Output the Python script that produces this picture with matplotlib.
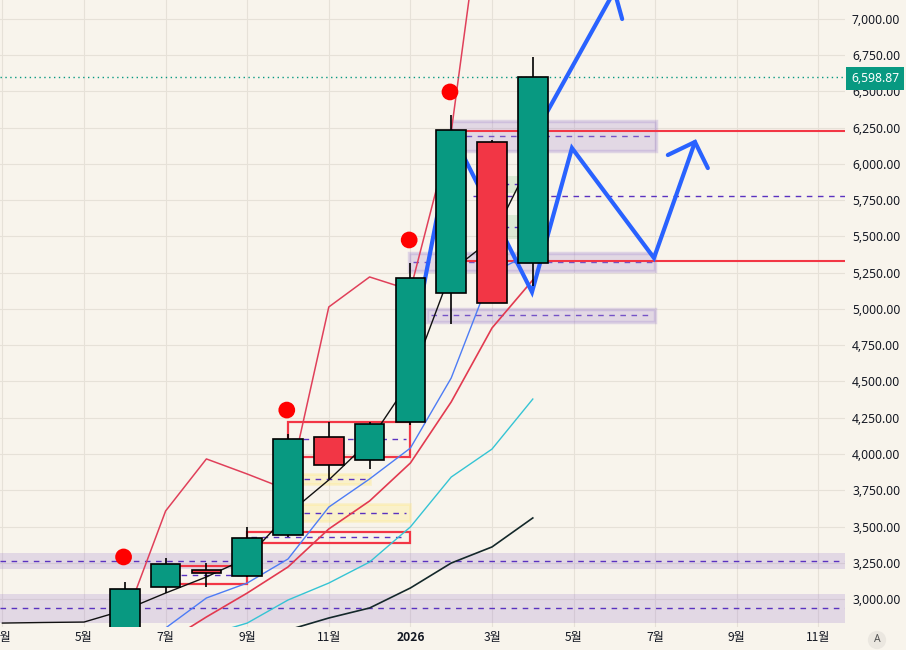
import matplotlib
matplotlib.use("Agg")
import matplotlib.pyplot as plt
from matplotlib.patches import Rectangle
import matplotlib.transforms as mtransforms

# ---------------- data ----------------
candle_months = ['2025-06', '2025-07', '2025-08', '2025-09', '2025-10', '2025-11',
                 '2025-12', '2026-01', '2026-02', '2026-03', '2026-04']
opens  = [2700, 3080, 3200, 3160, 3440, 4115, 3960, 4221, 5110, 6152, 5317]
highs  = [3120, 3285, 3245, 3500, 4138, 4221, 4221, 5317, 6338, 6166, 6738]
lows   = [2660, 3040, 3080, 3155, 3430, 3830, 3895, 4200, 4897, 5041, 5159]
closes = [3070, 3242, 3180, 3423, 4105, 3925, 4208, 5214, 6234, 5041, 6598.87]
last_price = 6598.87

ma_black_months = ['2025-03', '2025-04', '2025-05'] + candle_months
ma_black = [2834, 2838, 2841, 2924, 3041, 3152, 3283, 3586, 3821, 4090, 4510, 5262, 5483, 6050]
ma_upper_months = candle_months[:10]
ma_upper = [2855, 3607, 3966, 3862, 3752, 5014, 5221, 5131, 6221, 8317]
ma_blue_months = candle_months
ma_blue = [2600, 2800, 3007, 3110, 3276, 3634, 3828, 4041, 4524, 5250, 5390]
ma_red_months = candle_months[1:]
ma_red = [2700, 2876, 3041, 3221, 3483, 3676, 3938, 4359, 4869, 5200]
ma_cyan_months = candle_months[2:]
ma_cyan = [2750, 2834, 2993, 3110, 3255, 3497, 3841, 4034, 4379]
ma_dark_months = candle_months[3:]
ma_dark = [2700, 2786, 2869, 2938, 3076, 3248, 3359, 3559]

signal_months = ['2025-06', '2025-10', '2026-01', '2026-02']
signal_prices = [3290, 4303, 5476, 6497]

# zones: (start month idx, end month idx, low, high, dashed mid)
full_bands = [(3207, 3317, 3265), (2834, 3034, 2938)]
part_bands = [(9.0, 14.02, 6090, 6297, 6193),
              (7.97, 14.0, 5262, 5386, 5324),
              (8.4, 14.0, 4910, 5000, 4959)]
red_levels = [(9.0, 6228), (9.0, 5331)]
dash_levels = [(9.53, 5779)]
green_boxes = [(10.0, 11.0, 5800, 5917, 5862), (10.0, 11.0, 5483, 5648, 5566)]
yellow_boxes = [(5.0, 7.0, 3793, 3862, 3828), (5.0, 8.0, 3538, 3655, 3593)]
red_boxes = [(5.0, 8.0, 3979, 4221, 4103), (4.0, 8.0, 3386, 3462, 3428), (2.0, 4.0, 3103, 3228, 3166)]

# projection paths (month idx, price)
path_a_x = [8.0, 9.04, 10.98, 11.96, 13.97, 14.975]
path_a_y = [4683, 6200, 5117, 6110, 5352, 6152]
head_a_x = [14.31, 14.975, 15.29]
head_a_y = [6062, 6152, 5972]
path_b_x = [10.98, 13.0]
path_b_y = [6172, 7193]
head_b_x = [12.3, 13.0, 13.19]
head_b_y = [7141, 7193, 7000]

tick_pos = [-2, 0, 2, 4, 6, 8, 10, 12, 14, 16, 18]
tick_lbl = ['3월', '5월', '7월', '9월', '11월', '2026', '3월', '5월', '7월', '9월', '11월']
ytick_vals = [3000, 3250, 3500, 3750, 4000, 4250, 4500, 4750, 5000, 5250, 5500,
              5750, 6000, 6250, 6500, 6750, 7000]


def midx(s):
    y, m = s.split('-')
    return (int(y) - 2025) * 12 + int(m) - 5


# ---------------- style ----------------
BG = '#f8f4ec'
GREEN = '#089981'
RED = '#f23645'
PURPLE_FILL = (0.58, 0.46, 0.80, 0.22)
PURPLE_EDGE = (0.58, 0.46, 0.80, 0.25)
PURPLE_DASH = '#5a32c0'

fig = plt.figure(figsize=(9.06, 6.5), dpi=100, facecolor=BG)
ax = fig.add_axes([0, 23 / 650, 845 / 906, 627 / 650], facecolor=BG)
xmin, xmax = -84 / 40.8, 761 / 40.8
ax.set_xlim(xmin, xmax)
ax.set_ylim(7000 - 608 / 0.145, 7000 + 19 / 0.145)

for s in ax.spines.values():
    s.set_visible(False)

ax.set_xticks(tick_pos)
ax.set_xticklabels(tick_lbl, fontfamily=['Noto Sans CJK KR', 'DejaVu Sans'])
for t, l in zip(ax.get_xticklabels(), tick_lbl):
    if l == '2026':
        t.set_fontweight('bold')
ax.set_yticks(ytick_vals)
ax.set_yticklabels([f'{v:,.2f}' for v in ytick_vals], fontfamily='Noto Sans')
ax.yaxis.tick_right()
ax.tick_params(axis='both', length=0, labelsize=8.7, colors='#131722')
ax.tick_params(axis='y', pad=5)
ax.tick_params(axis='x', pad=3)
ax.grid(True, color='#e6e1d8', lw=0.8, zorder=0)
ax.set_axisbelow(True)

# full width bands
for lo, hi, mid in full_bands:
    ax.add_patch(Rectangle((xmin, lo), xmax - xmin, hi - lo, fc=PURPLE_FILL, ec='none', zorder=1))
    ax.plot([xmin, xmax], [mid, mid], color=PURPLE_DASH, lw=1, ls=(0, (4, 4)), zorder=1.5)

for x0, x1, lo, hi, mid in part_bands:
    ax.add_patch(Rectangle((x0, lo), x1 - x0, hi - lo, fc=PURPLE_FILL, ec=PURPLE_EDGE, lw=2.5, zorder=1))
    ax.plot([x0 + 0.1, x1 - 0.05], [mid, mid], color=PURPLE_DASH, lw=1, ls=(0, (4, 4)), zorder=1.5, alpha=0.8)

for x0, lvl in red_levels:
    ax.plot([x0, xmax], [lvl, lvl], color=RED, lw=1.5, zorder=1.6)
for x0, lvl in dash_levels:
    ax.plot([x0, xmax], [lvl, lvl], color=PURPLE_DASH, lw=1, ls=(0, (4, 4)), zorder=1.5)

for x0, x1, lo, hi, mid in green_boxes:
    ax.add_patch(Rectangle((x0, lo), x1 - x0, hi - lo, fc=(0.55, 0.80, 0.55, 0.25), ec='none', zorder=1))
    ax.plot([x0, x1], [mid, mid], color=PURPLE_DASH, lw=1, ls=(0, (4, 4)), zorder=1.5)
for x0, x1, lo, hi, mid in yellow_boxes:
    ax.add_patch(Rectangle((x0, lo), x1 - x0, hi - lo, fc=(1.0, 0.93, 0.55, 0.35),
                           ec=(1.0, 0.9, 0.5, 0.3), lw=2, zorder=1))
    ax.plot([x0 + 0.4, x1 - 0.1], [mid, mid], color=PURPLE_DASH, lw=1, ls=(0, (4, 4)), zorder=1.5)
for x0, x1, lo, hi, mid in red_boxes:
    ax.add_patch(Rectangle((x0, lo), x1 - x0, hi - lo, fc='none', ec=RED, lw=1.6, zorder=1.7))
    ax.plot([x0 + 0.1, x1 - 0.1], [mid, mid], color=PURPLE_DASH, lw=1, ls=(0, (4, 4)), zorder=1.5)

# moving averages
ax.plot([midx(m) for m in ma_dark_months], ma_dark, color='#14282a', lw=1.2, zorder=2)
ax.plot([midx(m) for m in ma_cyan_months], ma_cyan, color='#35c4d4', lw=1.0, zorder=2)
ax.plot([midx(m) for m in ma_red_months], ma_red, color='#e23a50', lw=1.2, zorder=2)
ax.plot([midx(m) for m in ma_blue_months], ma_blue, color='#4d7cf5', lw=1.0, zorder=2)
ax.plot([midx(m) for m in ma_upper_months], ma_upper, color='#e0405a', lw=1.1, zorder=2)
ax.plot([midx(m) for m in ma_black_months], ma_black, color='#111111', lw=1.0, zorder=2)

# projection paths
for xs, ys in [(path_a_x, path_a_y), (head_a_x, head_a_y), (path_b_x, path_b_y), (head_b_x, head_b_y)]:
    ax.plot(xs, ys, color='#2962ff', lw=3, solid_capstyle='round', solid_joinstyle='miter', zorder=3)

# price line
ax.axhline(last_price, color=GREEN, lw=1, ls=(0, (1, 2.5)), zorder=2)

# candles
cx = [midx(m) for m in candle_months]
ax.vlines(cx, lows, highs, color='black', lw=1.2, zorder=4)
for x, o, c in zip(cx, opens, closes):
    col = GREEN if c >= o else RED
    ax.add_patch(Rectangle((x - 0.365, min(o, c)), 0.73, abs(c - o), fc=col, ec='black', lw=1.2, zorder=5))

# signal dots
ax.scatter([midx(m) - 0.03 for m in signal_months], signal_prices, s=145, color='#ff0000',
           edgecolors='none', zorder=6)

# last price label
trans = mtransforms.blended_transform_factory(ax.transAxes, ax.transData)
ax.text(1 + 6 / 845, last_price - 9, f'{last_price:,.2f}', transform=trans, ha='left', va='center',
        color='white', fontsize=8.7, fontweight='bold', fontfamily='Noto Sans',
        bbox=dict(boxstyle='square,pad=0.38', fc=GREEN, ec='none'), clip_on=False, zorder=10)

fig.text(877 / 906, 1 - 640 / 650, 'A', ha='center', va='center', fontsize=7.5, color='#555555',
         fontfamily='Noto Sans',
         bbox=dict(boxstyle='circle,pad=0.35', fc='#ebe7e0', ec='none'))

fig.savefig('out.png', dpi=100, facecolor=BG)
